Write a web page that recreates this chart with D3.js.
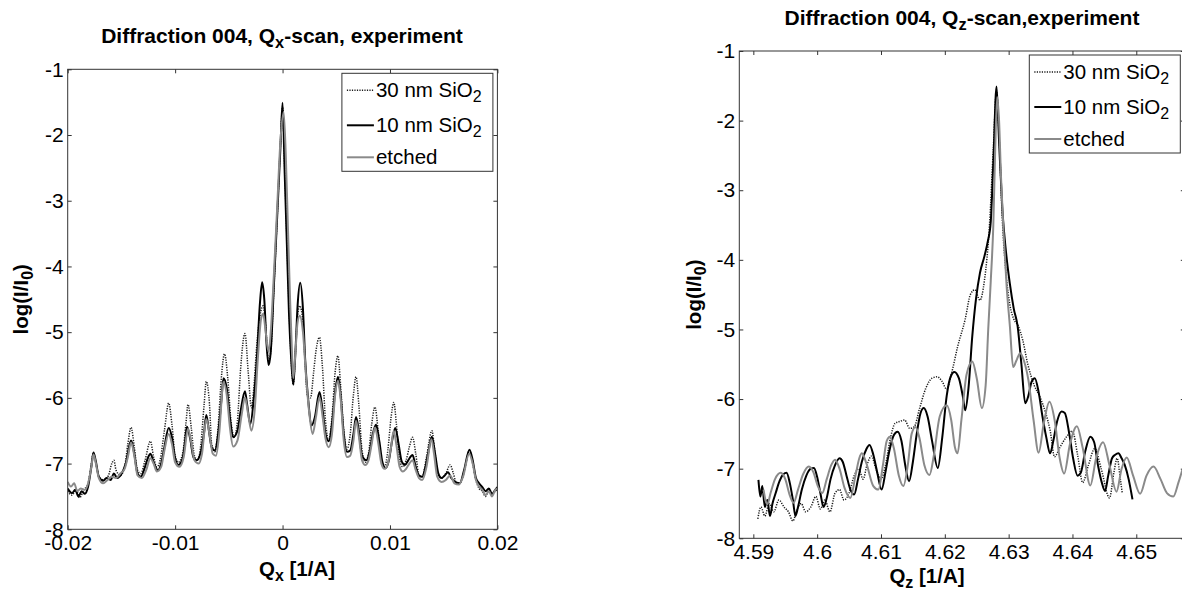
<!DOCTYPE html>
<html><head><meta charset="utf-8">
<script src="https://cdn.jsdelivr.net/npm/d3@7"></script>
<style>
html,body{margin:0;padding:0;background:#fff;}
svg{display:block;font-family:"Liberation Sans",Arial,Helvetica,sans-serif;}
</style></head><body>
<svg id="chart" width="1182" height="591"></svg>
<script>
// ---------------- DATA ----------------
const seriesLabels = ["30 nm SiO_2", "10 nm SiO_2", "etched"];
const leftTitle = "Diffraction 004, Q_x-scan, experiment";
const rightTitle = "Diffraction 004, Q_z-scan,experiment";
const leftXLabel = "Q_x [1/A]";
const rightXLabel = "Q_z [1/A]";
const yLabel = "log(I/I_0)";
const leftXTicks = [-0.02, -0.01, 0, 0.01, 0.02];
const rightXTicks = [4.59, 4.6, 4.61, 4.62, 4.63, 4.64, 4.65];
const yTicks = [-8, -7, -6, -5, -4, -3, -2, -1];
const leftXDomain = [-0.02, 0.02];
const rightXDomain = [4.5878, 4.6576];
const yDomain = [-8, -1];

// Qx scan, 30 nm SiO2 (dotted)
const qx30 = [[-0.0200,-7.42],[-0.0196,-7.48],[-0.0192,-7.40],[-0.0189,-7.52],[-0.0185,-7.40],[-0.0181,-7.30],[-0.0178,-7.0],[-0.0176,-6.84],[-0.0174,-6.98],[-0.0170,-7.22],[-0.0166,-7.25],[-0.0162,-7.18],[-0.0159,-7.00],[-0.0157,-6.95],[-0.0155,-7.10],[-0.0151,-7.18],[-0.0147,-7.05],[-0.0144,-6.70],[-0.0141,-6.45],[-0.0138,-6.75],[-0.0135,-7.10],[-0.0132,-7.15],[-0.0128,-6.95],[-0.0123,-6.66],[-0.0120,-6.90],[-0.0117,-7.05],[-0.0114,-6.95],[-0.0110,-6.50],[-0.0106,-6.08],[-0.0103,-6.40],[-0.0100,-6.88],[-0.0097,-6.98],[-0.0093,-6.85],[-0.0090,-6.40],[-0.0088,-6.10],[-0.0085,-6.45],[-0.0082,-6.88],[-0.0079,-6.95],[-0.0076,-6.70],[-0.0073,-6.10],[-0.0071,-5.75],[-0.0068,-6.10],[-0.0066,-6.70],[-0.0063,-6.82],[-0.0060,-6.45],[-0.0057,-5.70],[-0.0054,-5.33],[-0.0051,-5.70],[-0.0048,-6.35],[-0.0045,-6.60],[-0.0042,-6.35],[-0.0039,-5.55],[-0.0035,-5.02],[-0.0032,-5.60],[-0.0029,-6.15],[-0.0027,-5.90],[-0.0024,-5.20],[-0.0021,-4.75],[-0.0018,-4.60],[-0.0016,-4.85],[-0.0013,-5.45],[-0.0011,-5.30],[-0.0008,-4.30],[-0.0005,-3.25],[-0.0002,-2.15],[0.0000,-1.58],[0.0002,-2.50],[0.0004,-3.55],[0.0006,-4.60],[0.0008,-5.40],[0.0010,-5.80],[0.0012,-5.30],[0.0014,-4.75],[0.0016,-4.60],[0.0019,-4.85],[0.0021,-5.45],[0.0023,-5.95],[0.0026,-6.00],[0.0029,-5.60],[0.0031,-5.30],[0.00344,-5.08],[0.0037,-5.50],[0.0040,-6.35],[0.0043,-6.65],[0.0046,-6.30],[0.0049,-5.60],[0.00516,-5.36],[0.0054,-5.80],[0.0057,-6.50],[0.0060,-6.78],[0.0063,-6.55],[0.0066,-5.95],[0.00684,-5.68],[0.0071,-6.10],[0.0074,-6.80],[0.0077,-6.98],[0.0080,-6.85],[0.0083,-6.40],[0.0086,-6.14],[0.0089,-6.50],[0.0092,-6.95],[0.0095,-7.05],[0.0098,-6.80],[0.0101,-6.30],[0.01035,-6.07],[0.0106,-6.40],[0.0109,-6.95],[0.0112,-7.05],[0.0115,-6.95],[0.0118,-6.75],[0.0121,-6.60],[0.0124,-6.85],[0.0127,-7.18],[0.0130,-7.20],[0.0134,-6.90],[0.0139,-6.50],[0.0142,-6.85],[0.0145,-7.18],[0.0148,-7.22],[0.0152,-7.15],[0.0156,-7.02],[0.0159,-7.15],[0.0162,-7.30],[0.0166,-7.28],[0.0170,-7.05],[0.0174,-6.80],[0.0177,-7.00],[0.0180,-7.25],[0.0183,-7.38],[0.0186,-7.42],[0.0189,-7.50],[0.0192,-7.40],[0.0195,-7.48],[0.0198,-7.42],[0.0200,-7.40]];

// Qx scan, 10 nm SiO2 (black)
const qx10 = [[-0.0200,-7.38],[-0.0196,-7.45],[-0.0193,-7.40],[-0.0190,-7.50],[-0.0187,-7.42],[-0.0184,-7.46],[-0.0181,-7.35],[-0.0178,-7.05],[-0.0176,-6.83],[-0.0174,-6.95],[-0.0171,-7.20],[-0.0167,-7.26],[-0.0164,-7.22],[-0.0160,-7.25],[-0.0157,-7.15],[-0.0154,-7.22],[-0.0150,-7.16],[-0.0146,-7.00],[-0.0141,-6.65],[-0.0138,-6.85],[-0.0135,-7.15],[-0.0132,-7.20],[-0.0128,-7.05],[-0.0125,-6.90],[-0.0123,-6.85],[-0.0120,-6.98],[-0.0116,-7.10],[-0.0113,-7.00],[-0.0110,-6.75],[-0.0106,-6.46],[-0.0103,-6.60],[-0.0100,-6.92],[-0.0097,-7.02],[-0.0093,-6.92],[-0.0091,-6.70],[-0.0089,-6.44],[-0.0086,-6.62],[-0.0083,-6.90],[-0.0080,-6.95],[-0.0076,-6.82],[-0.0073,-6.52],[-0.0071,-6.26],[-0.0069,-6.45],[-0.0066,-6.75],[-0.0063,-6.80],[-0.0060,-6.55],[-0.0057,-6.05],[-0.0055,-5.70],[-0.0052,-5.85],[-0.0049,-6.30],[-0.0046,-6.60],[-0.0042,-6.50],[-0.0039,-6.20],[-0.0035,-5.90],[-0.0033,-6.10],[-0.0030,-6.40],[-0.0027,-6.05],[-0.0024,-5.42],[-0.0021,-4.55],[-0.0019,-4.24],[-0.0017,-4.50],[-0.0015,-5.15],[-0.0013,-5.50],[-0.0011,-5.30],[-0.0008,-4.27],[-0.0005,-3.24],[-0.0002,-2.20],[0.0000,-1.51],[0.0002,-2.58],[0.0004,-3.65],[0.0006,-4.72],[0.0008,-5.40],[0.0010,-5.80],[0.0012,-5.30],[0.0014,-4.60],[0.00165,-4.25],[0.0019,-4.65],[0.0021,-5.40],[0.0024,-6.05],[0.0027,-6.42],[0.0030,-6.30],[0.00344,-5.91],[0.0037,-6.15],[0.0040,-6.55],[0.0043,-6.66],[0.0046,-6.40],[0.0049,-5.90],[0.00516,-5.68],[0.0054,-5.95],[0.0057,-6.55],[0.0060,-6.82],[0.0063,-6.80],[0.0066,-6.55],[0.00684,-6.29],[0.0071,-6.50],[0.0074,-6.88],[0.0078,-6.95],[0.0081,-6.82],[0.0084,-6.55],[0.0087,-6.41],[0.0090,-6.65],[0.0093,-6.98],[0.0096,-7.07],[0.0099,-6.95],[0.0102,-6.65],[0.0105,-6.46],[0.0108,-6.70],[0.0111,-6.97],[0.0114,-7.02],[0.0117,-6.95],[0.0121,-6.87],[0.0124,-7.05],[0.0127,-7.18],[0.0130,-7.20],[0.0133,-7.05],[0.0136,-6.80],[0.0139,-6.59],[0.0142,-6.85],[0.0145,-7.15],[0.0148,-7.22],[0.0151,-7.18],[0.0154,-7.13],[0.0157,-7.22],[0.0161,-7.28],[0.0165,-7.30],[0.0169,-7.10],[0.0174,-6.79],[0.0177,-6.95],[0.0180,-7.22],[0.0183,-7.30],[0.0186,-7.36],[0.0189,-7.42],[0.0192,-7.38],[0.0195,-7.46],[0.0198,-7.40],[0.0200,-7.36]];

// Qx scan, etched (grey)
const qxEt = [[-0.0200,-7.28],[-0.0197,-7.35],[-0.0194,-7.30],[-0.0191,-7.42],[-0.0188,-7.38],[-0.0184,-7.40],[-0.0181,-7.30],[-0.0178,-7.05],[-0.0176,-6.86],[-0.0174,-6.98],[-0.0171,-7.22],[-0.0167,-7.30],[-0.0163,-7.25],[-0.0159,-7.20],[-0.0155,-7.22],[-0.0151,-7.15],[-0.0147,-7.08],[-0.0144,-6.90],[-0.0141,-6.68],[-0.0138,-6.88],[-0.0135,-7.18],[-0.0131,-7.22],[-0.0127,-7.10],[-0.0123,-6.92],[-0.0120,-7.00],[-0.0117,-7.12],[-0.0113,-7.05],[-0.0110,-6.80],[-0.0106,-6.55],[-0.0103,-6.70],[-0.0100,-6.98],[-0.0096,-7.05],[-0.0092,-6.90],[-0.0088,-6.47],[-0.0085,-6.68],[-0.0082,-6.95],[-0.0078,-7.00],[-0.0075,-6.85],[-0.0071,-6.32],[-0.0068,-6.55],[-0.0065,-6.85],[-0.0062,-6.88],[-0.0059,-6.55],[-0.0055,-5.76],[-0.0052,-5.95],[-0.0049,-6.45],[-0.0046,-6.74],[-0.0042,-6.65],[-0.0038,-6.25],[-0.0035,-5.99],[-0.0032,-6.25],[-0.0029,-6.50],[-0.0026,-6.20],[-0.0023,-5.40],[-0.0020,-4.80],[-0.0018,-4.72],[-0.0016,-4.95],[-0.0013,-5.30],[-0.0011,-5.00],[-0.0008,-4.10],[-0.0005,-3.10],[-0.0002,-2.10],[0.0001,-1.65],[0.0003,-2.30],[0.0005,-3.40],[0.0007,-4.50],[0.0009,-5.40],[0.0010,-5.70],[0.0012,-5.30],[0.0014,-4.85],[0.0016,-4.75],[0.0019,-5.00],[0.0022,-5.70],[0.0025,-6.25],[0.0028,-6.55],[0.0031,-6.30],[0.00344,-5.99],[0.0037,-6.25],[0.0040,-6.62],[0.0043,-6.75],[0.0046,-6.55],[0.0049,-5.95],[0.00516,-5.74],[0.0054,-6.00],[0.0057,-6.65],[0.0060,-6.90],[0.0063,-6.88],[0.0066,-6.65],[0.00684,-6.35],[0.0071,-6.58],[0.0074,-6.95],[0.0077,-7.02],[0.0080,-6.95],[0.0083,-6.70],[0.0086,-6.45],[0.0089,-6.68],[0.0092,-7.00],[0.0095,-7.08],[0.0098,-7.00],[0.0101,-6.75],[0.01035,-6.50],[0.0106,-6.72],[0.0109,-7.05],[0.0112,-7.12],[0.0115,-7.08],[0.0118,-7.00],[0.0121,-6.95],[0.0124,-7.10],[0.0127,-7.22],[0.0130,-7.25],[0.0134,-7.05],[0.01386,-6.63],[0.0141,-6.85],[0.0144,-7.20],[0.0148,-7.28],[0.0152,-7.25],[0.0156,-7.18],[0.0160,-7.30],[0.0164,-7.32],[0.0168,-7.20],[0.01737,-6.85],[0.0177,-7.00],[0.0180,-7.25],[0.0183,-7.35],[0.0186,-7.40],[0.0189,-7.48],[0.0192,-7.42],[0.0195,-7.50],[0.0198,-7.40],[0.0200,-7.38]];

// Qz scan, 30 nm SiO2 (dotted)
const qz30 = [[4.5907,-7.72],[4.5912,-7.55],[4.5918,-7.68],[4.5925,-7.50],[4.5932,-7.62],[4.5940,-7.45],[4.5948,-7.55],[4.5955,-7.62],[4.5962,-7.75],[4.5968,-7.60],[4.5975,-7.50],[4.5982,-7.62],[4.5990,-7.55],[4.5998,-7.40],[4.6005,-7.58],[4.6012,-7.45],[4.6020,-7.62],[4.6028,-7.35],[4.6035,-7.30],[4.6042,-7.45],[4.6050,-7.35],[4.6058,-7.10],[4.6065,-7.00],[4.6072,-7.15],[4.6078,-6.95],[4.6085,-6.82],[4.6092,-7.00],[4.6100,-7.15],[4.6107,-6.95],[4.6115,-6.55],[4.6122,-6.35],[4.6130,-6.32],[4.6137,-6.30],[4.6145,-6.42],[4.6152,-6.40],[4.6160,-6.15],[4.6170,-5.85],[4.6180,-5.70],[4.6188,-5.68],[4.6196,-5.75],[4.6203,-5.86],[4.6210,-5.65],[4.6220,-5.25],[4.6232,-4.85],[4.6240,-4.50],[4.6247,-4.43],[4.6255,-4.58],[4.6262,-4.30],[4.6270,-3.50],[4.6276,-2.40],[4.6281,-1.58],[4.6285,-2.20],[4.6290,-3.40],[4.6296,-4.20],[4.6302,-4.65],[4.6308,-4.85],[4.6315,-4.95],[4.6322,-5.15],[4.6330,-5.50],[4.6340,-5.80],[4.6349,-5.97],[4.6358,-6.20],[4.6365,-6.45],[4.6372,-6.83],[4.6380,-6.70],[4.6390,-6.55],[4.6400,-6.46],[4.6408,-6.80],[4.6416,-7.20],[4.6425,-6.95],[4.6435,-6.71],[4.6445,-7.00],[4.6458,-7.42],[4.6465,-7.05],[4.6470,-6.85],[4.6475,-7.15],[4.6478,-7.35]];

// Qz scan, 10 nm SiO2 (black)
const qz10 = [[4.5908,-7.16],[4.5911,-7.40],[4.5914,-7.25],[4.5918,-7.55],[4.5922,-7.45],[4.5926,-7.68],[4.5930,-7.50],[4.5935,-7.35],[4.5941,-7.18],[4.5947,-7.08],[4.5952,-7.06],[4.5957,-7.20],[4.5962,-7.45],[4.5966,-7.68],[4.5970,-7.55],[4.5976,-7.30],[4.5983,-7.10],[4.5990,-7.00],[4.5995,-6.99],[4.6000,-7.12],[4.6005,-7.35],[4.6010,-7.55],[4.6015,-7.42],[4.6021,-7.15],[4.6028,-6.95],[4.6035,-6.85],[4.6040,-6.90],[4.6046,-7.10],[4.6052,-7.30],[4.6058,-7.37],[4.6064,-7.15],[4.6070,-6.90],[4.6077,-6.72],[4.6082,-6.66],[4.6088,-6.80],[4.6094,-7.05],[4.6101,-7.30],[4.6107,-7.05],[4.6113,-6.75],[4.6120,-6.52],[4.6126,-6.47],[4.6132,-6.60],[4.6138,-6.95],[4.6144,-7.18],[4.6150,-6.90],[4.6156,-6.50],[4.6162,-6.20],[4.6167,-6.13],[4.6173,-6.25],[4.6180,-6.60],[4.6189,-6.99],[4.6196,-6.55],[4.6203,-5.95],[4.6209,-5.68],[4.6215,-5.61],[4.6222,-5.70],[4.6228,-5.95],[4.6232,-6.16],[4.6237,-5.85],[4.6243,-5.10],[4.6249,-4.55],[4.6255,-4.19],[4.6262,-3.95],[4.6267,-3.75],[4.6272,-3.45],[4.6276,-2.60],[4.6281,-1.51],[4.6285,-2.30],[4.6290,-3.25],[4.6296,-3.90],[4.6302,-4.35],[4.6308,-4.70],[4.6314,-4.95],[4.6320,-5.50],[4.6326,-6.06],[4.6331,-5.95],[4.6336,-5.75],[4.6341,-5.70],[4.6347,-5.90],[4.6353,-6.25],[4.6359,-6.55],[4.6365,-6.78],[4.6370,-6.60],[4.6376,-6.32],[4.6383,-6.18],[4.6388,-6.20],[4.6395,-6.50],[4.6401,-6.85],[4.6408,-7.10],[4.6413,-7.06],[4.6420,-6.75],[4.6428,-6.54],[4.6434,-6.62],[4.6440,-6.95],[4.6446,-7.20],[4.6451,-7.32],[4.6456,-7.10],[4.6462,-6.85],[4.6467,-6.80],[4.6472,-6.78],[4.6477,-6.85],[4.6482,-6.95],[4.6488,-7.15],[4.6494,-7.44]];

// Qz scan, etched (grey)
const qzEt = [[4.5916,-7.30],[4.5919,-7.45],[4.5922,-7.51],[4.5927,-7.35],[4.5934,-7.15],[4.5943,-7.06],[4.5950,-7.15],[4.5957,-7.38],[4.5963,-7.49],[4.5970,-7.30],[4.5978,-7.08],[4.5987,-6.97],[4.5994,-7.05],[4.6001,-7.25],[4.6008,-7.35],[4.6015,-7.15],[4.6022,-6.95],[4.6028,-6.87],[4.6035,-7.00],[4.6043,-7.28],[4.6052,-7.42],[4.6060,-7.10],[4.6066,-6.85],[4.6070,-6.78],[4.6077,-6.92],[4.6088,-7.25],[4.6096,-7.30],[4.6103,-6.95],[4.6109,-6.60],[4.6114,-6.54],[4.6120,-6.70],[4.6128,-7.10],[4.6135,-7.25],[4.6142,-6.95],[4.6148,-6.50],[4.6154,-6.40],[4.6160,-6.55],[4.6168,-6.95],[4.6176,-7.09],[4.6183,-6.80],[4.6192,-6.25],[4.6203,-6.09],[4.6210,-6.30],[4.6216,-6.70],[4.6220,-6.78],[4.6226,-6.30],[4.6234,-5.65],[4.6243,-5.46],[4.6250,-5.70],[4.6258,-6.13],[4.6264,-5.80],[4.6268,-5.00],[4.6272,-4.30],[4.6276,-3.50],[4.6279,-2.40],[4.6282,-1.66],[4.6285,-2.00],[4.6288,-2.80],[4.6292,-3.60],[4.6297,-4.40],[4.6302,-4.96],[4.6307,-5.54],[4.6312,-5.45],[4.6318,-5.34],[4.6324,-5.45],[4.6331,-5.73],[4.6339,-6.30],[4.6347,-6.77],[4.6355,-6.35],[4.6364,-6.04],[4.6372,-6.30],[4.6380,-6.85],[4.6387,-7.07],[4.6396,-6.65],[4.6407,-6.39],[4.6416,-6.70],[4.6428,-7.24],[4.6437,-6.85],[4.6448,-6.62],[4.6458,-6.95],[4.6469,-7.33],[4.6477,-7.00],[4.6485,-6.84],[4.6495,-7.10],[4.6506,-7.36],[4.6516,-7.10],[4.6527,-6.97],[4.6538,-7.15],[4.6548,-7.35],[4.6558,-7.40],[4.6566,-7.20],[4.6572,-7.02]];

// ---------------- LAYOUT / STYLE ----------------
const svg = d3.select("#chart");
const FONT_TICK = 21, FONT_LAB = 20.5, FONT_TITLE = 21, FONT_LEG = 20.5;
const styles = [
  {stroke:"#1a1a1a", width:1.5, dash:"1.2,1.3"},
  {stroke:"#000000", width:2, dash:null},
  {stroke:"#8a8a8a", width:2, dash:null}
];

function rich(t, str, fs){
  const parts = str.split(/_(.)/);
  let down = false;
  parts.forEach((p,i)=>{
    if(!p) return;
    const ts = t.append("tspan").text(p);
    if(i%2===1){ ts.attr("font-size", fs*0.78).attr("dy", fs*0.25); down = true; }
    else if(down){ ts.attr("dy", -fs*0.25); down = false; }
  });
}

function panel(cfg){
  const g = svg.append("g");
  const x = d3.scaleLinear().domain(cfg.xDomain).range([cfg.left, cfg.right]);
  const y = d3.scaleLinear().domain(yDomain).range([cfg.bottom, cfg.top]);
  const id = "clip" + cfg.name;
  svg.append("clipPath").attr("id", id).append("rect")
    .attr("x", cfg.left).attr("y", cfg.top)
    .attr("width", cfg.right-cfg.left).attr("height", cfg.bottom-cfg.top);

  // series
  const line = d3.line().x(d=>x(d[0])).y(d=>y(d[1])).curve(d3.curveMonotoneX);
  const lg = g.append("g").attr("clip-path", `url(#${id})`);
  cfg.series.forEach((s,i)=>{
    lg.append("path").datum(s).attr("d", line)
      .attr("fill","none").attr("stroke", styles[i].stroke)
      .attr("stroke-width", styles[i].width)
      .attr("stroke-linejoin","round")
      .attr("stroke-dasharray", styles[i].dash);
  });

  // axes (ticks inward)
  const fmt = d => String(d);
  const ax = (gen, tr) => {
    const a = g.append("g").attr("transform", tr).call(gen);
    a.select(".domain").remove();
    a.selectAll("line").attr("stroke","#333");
    a.selectAll("text").attr("font-size", FONT_TICK).attr("fill","#000")
      .attr("font-family",'"Liberation Sans",Arial,sans-serif');
    return a;
  };
  ax(d3.axisBottom(x).tickValues(cfg.xTicks).tickFormat(fmt).tickSizeInner(-4).tickSizeOuter(0).tickPadding(6),
     `translate(0,${cfg.bottom})`);
  ax(d3.axisTop(x).tickValues(cfg.xTicks).tickFormat("").tickSizeInner(-4).tickSizeOuter(0),
     `translate(0,${cfg.top})`);
  ax(d3.axisLeft(y).tickValues(yTicks).tickFormat(fmt).tickSizeInner(-4).tickSizeOuter(0).tickPadding(4),
     `translate(${cfg.left},0)`);
  ax(d3.axisRight(y).tickValues(yTicks).tickFormat("").tickSizeInner(-4).tickSizeOuter(0),
     `translate(${cfg.right},0)`);

  // frame
  g.append("rect").attr("x", cfg.left).attr("y", cfg.top)
    .attr("width", cfg.right-cfg.left).attr("height", cfg.bottom-cfg.top)
    .attr("fill","none").attr("stroke","#333").attr("stroke-width",1);

  // title
  rich(g.append("text").attr("x", cfg.titleX).attr("y", cfg.titleY)
    .attr("text-anchor","middle").attr("font-weight","bold").attr("font-size", FONT_TITLE), cfg.title, FONT_TITLE);
  // x label
  rich(g.append("text").attr("x", cfg.xLabX).attr("y", cfg.xLabY)
    .attr("text-anchor","middle").attr("font-weight","bold").attr("font-size", FONT_LAB), cfg.xLabel, FONT_LAB);
  // y label
  rich(g.append("text").attr("transform", `translate(${cfg.yLabX},${(cfg.top+cfg.bottom)/2}) rotate(-90)`)
    .attr("dy","0.35em").attr("text-anchor","middle").attr("font-weight","bold").attr("font-size", FONT_LAB), yLabel, FONT_LAB);

  // legend
  const lgX = cfg.right - 4.5 - 151, lgY = cfg.top + 4;
  const leg = g.append("g");
  leg.append("rect").attr("x", lgX).attr("y", lgY).attr("width",151).attr("height",98)
    .attr("fill","#fff").attr("stroke","#333").attr("stroke-width",1);
  const rows = [17, 52, 84];
  seriesLabels.forEach((lab,i)=>{
    const yy = lgY + rows[i];
    leg.append("line").attr("x1", lgX+5).attr("x2", lgX+32).attr("y1", yy).attr("y2", yy)
      .attr("stroke", styles[i].stroke).attr("stroke-width", styles[i].width)
      .attr("stroke-dasharray", styles[i].dash);
    rich(leg.append("text").attr("x", lgX+34).attr("y", yy+6.5).attr("font-size", FONT_LEG), lab, FONT_LEG);
  });
}

panel({name:"L", xDomain:leftXDomain, xTicks:leftXTicks, left:67.7, right:497.4, top:69.3, bottom:529.3,
  series:[qx30, qx10, qxEt], title:leftTitle, titleX:282, titleY:43, xLabel:leftXLabel, xLabX:297, xLabY:576, yLabX:21});
panel({name:"R", xDomain:rightXDomain, xTicks:rightXTicks, left:739.3, right:1184.8, top:51, bottom:538.3,
  series:[qz30, qz10, qzEt], title:rightTitle, titleX:962, titleY:25, xLabel:rightXLabel, xLabX:927, xLabY:583, yLabX:694});
</script>
</body></html>
